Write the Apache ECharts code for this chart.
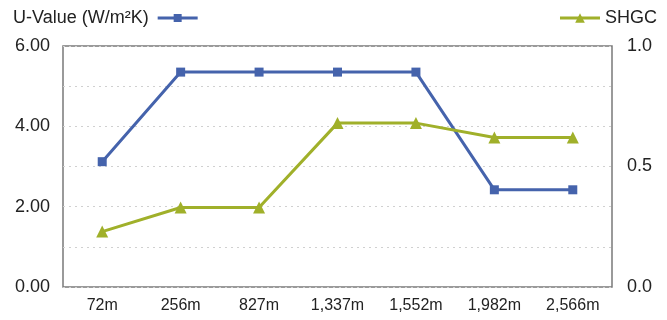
<!DOCTYPE html>
<html><head><meta charset="utf-8">
<script src="https://cdn.jsdelivr.net/npm/echarts@6/dist/echarts.min.js"></script>
<style>html,body{margin:0;padding:0;background:#fff}#c{width:667px;height:320px}</style>
</head><body><div id="c"></div>
<script>
const categories = ['72m','256m','827m','1,337m','1,552m','1,982m','2,566m'];
const uValue = [3.12, 5.35, 5.35, 5.35, 5.35, 2.42, 2.42];
const shgc = [0.23, 0.33, 0.33, 0.68, 0.68, 0.62, 0.62];
const uName = 'U-Value (W/m²K)';
const sName = 'SHGC';
const font = 'Liberation Sans, Arial, sans-serif';
const chart = echarts.init(document.getElementById('c'));
chart.setOption({
  animation: false,
  textStyle: {fontFamily: font},
  legend: [
    {data: [uName], left: 8, top: 4, align: 'right', itemWidth: 40, itemHeight: 10, itemGap: 4,
     lineStyle: {width: 3},
     textStyle: {fontSize: 18, color: '#222', fontFamily: font, padding: [0, 4, 0, 0]}},
    {data: [sName], right: 5, top: 4, align: 'left', itemWidth: 40, itemHeight: 12, itemGap: 4,
     lineStyle: {width: 3},
     textStyle: {fontSize: 18, color: '#222', fontFamily: font}}
  ],
  grid: {left: 63, right: 55, top: 46, bottom: 33, show: true, borderColor: '#7a7a7a', borderWidth: 1.5},
  xAxis: {
    type: 'category', data: categories, boundaryGap: true,
    axisLine: {show: false}, axisTick: {show: false},
    axisLabel: {fontSize: 16, color: '#222', margin: 11, fontFamily: font}
  },
  yAxis: [
    {type: 'value', min: 0, max: 6, interval: 1,
     axisLine: {show: false}, axisTick: {show: false},
     axisLabel: {fontSize: 18, color: '#222', margin: 13, fontFamily: font,
       formatter: v => (v % 2 === 0 ? v.toFixed(2) : '')},
     splitLine: {show: true, lineStyle: {color: '#d0d0d0', type: [2, 4], width: 1}}},
    {type: 'value', min: 0, max: 1, interval: 0.5,
     axisLine: {show: false}, axisTick: {show: false},
     axisLabel: {fontSize: 18, color: '#222', margin: 15, fontFamily: font,
       formatter: v => v.toFixed(1)},
     splitLine: {show: false}}
  ],
  series: [
    {name: uName, type: 'line', yAxisIndex: 0, data: uValue,
     symbol: 'rect', symbolSize: 9,
     lineStyle: {color: '#4563ac', width: 3}, itemStyle: {color: '#4563ac'}},
    {name: sName, type: 'line', yAxisIndex: 1, data: shgc,
     symbol: 'triangle', symbolSize: 12,
     lineStyle: {color: '#a0b02a', width: 3}, itemStyle: {color: '#a0b02a'}}
  ]
});
</script></body></html>
